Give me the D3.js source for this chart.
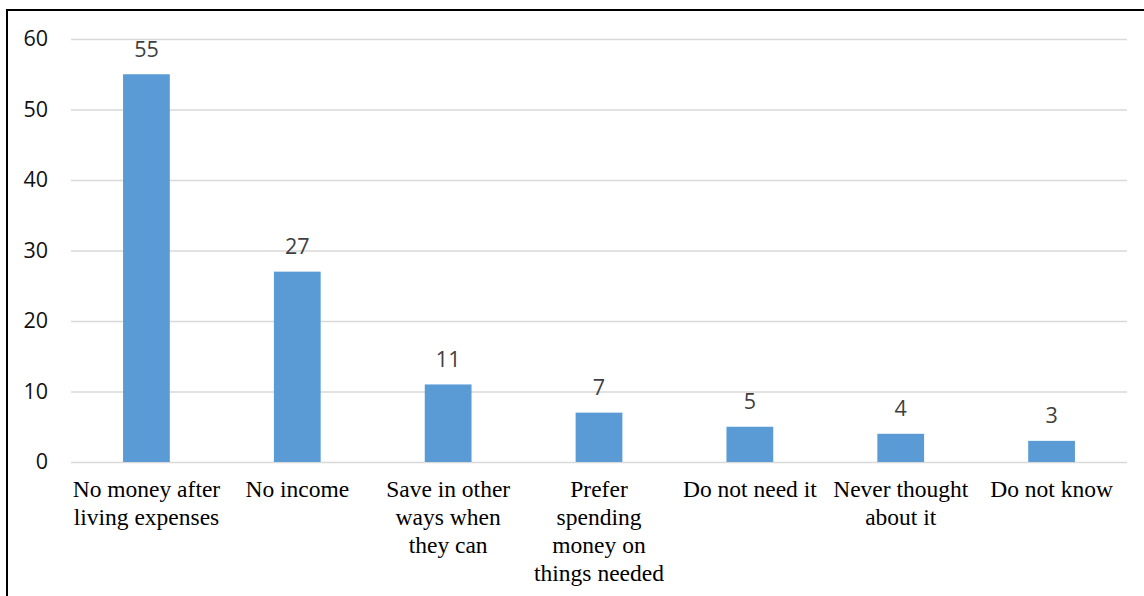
<!DOCTYPE html>
<html>
<head>
<meta charset="utf-8">
<script src="https://cdn.jsdelivr.net/npm/d3@7"></script>
<style>
  body { margin: 0; background: #fff; }
  svg { display: block; }
</style>
</head>
<body>
<svg id="chart" width="1144" height="596"></svg>
<script>
// reasons given, one line per array entry split on "|"
const categories = [
    "No money after|living expenses",
    "No income",
    "Save in other|ways when|they can",
    "Prefer|spending|money on|things needed",
    "Do not need it",
    "Never thought|about it",
    "Do not know"
];
const values = [55, 27, 11, 7, 5, 4, 3];
const yTicks = [0, 10, 20, 30, 40, 50, 60];

const svg = d3.select("#chart");
const margin = {top: 39, right: 17, bottom: 134, left: 71};
const width = 1144 - margin.left - margin.right;
const height = 596 - margin.top - margin.bottom;

// outer frame (only top and left edges show in the picture)
svg.append("path")
    .attr("d", "M7,600 L7,10 L1150,10")
    .attr("fill", "none")
    .attr("stroke", "#000")
    .attr("stroke-width", 2);

const g = svg.append("g")
    .attr("transform", `translate(${margin.left},${margin.top})`);

const x = d3.scaleBand()
    .domain(categories)
    .range([0, width])
    .paddingInner(0.69)
    .paddingOuter(0.345);

const y = d3.scaleLinear()
    .domain([0, 60])
    .range([height, 0]);

// gridlines + tick labels
const yAxis = g.append("g")
    .call(d3.axisLeft(y).tickValues(yTicks).tickSize(-width).tickPadding(23));
yAxis.select(".domain").remove();
yAxis.selectAll("line")
    .attr("stroke", "#d9d9d9")
    .attr("stroke-width", 1.5);
yAxis.selectAll("text")
    .attr("font-family", "'Open Sans', sans-serif")
    .attr("font-size", 21.5)
    .attr("fill", "#111");

g.selectAll("rect.bar")
    .data(values)
    .join("rect")
    .attr("class", "bar")
    .attr("x", (d, i) => x(categories[i]))
    .attr("y", d => y(d))
    .attr("width", x.bandwidth())
    .attr("height", d => height - y(d))
    .attr("fill", "#5b9bd5");

g.selectAll("text.value")
    .data(values)
    .join("text")
    .attr("class", "value")
    .attr("x", (d, i) => x(categories[i]) + x.bandwidth() / 2)
    .attr("y", d => y(d) - 17.5)
    .attr("text-anchor", "middle")
    .attr("font-family", "'Open Sans', sans-serif")
    .attr("font-size", 21.5)
    .attr("fill", "#404040")
    .text(d => d);

// category labels, wrapped
const labels = g.selectAll("text.cat")
    .data(categories)
    .join("text")
    .attr("class", "cat")
    .attr("text-anchor", "middle")
    .attr("font-family", "'Liberation Serif', 'Times New Roman', serif")
    .attr("font-size", 23.5)
    .attr("fill", "#000")
    .attr("transform", d => `translate(${x(d) + x.bandwidth() / 2},${height + 35})`);

labels.selectAll("tspan")
    .data(d => d.split("|"))
    .join("tspan")
    .attr("x", 0)
    .attr("y", (d, i) => i * 28)
    .text(d => d);
</script>
</body>
</html>
